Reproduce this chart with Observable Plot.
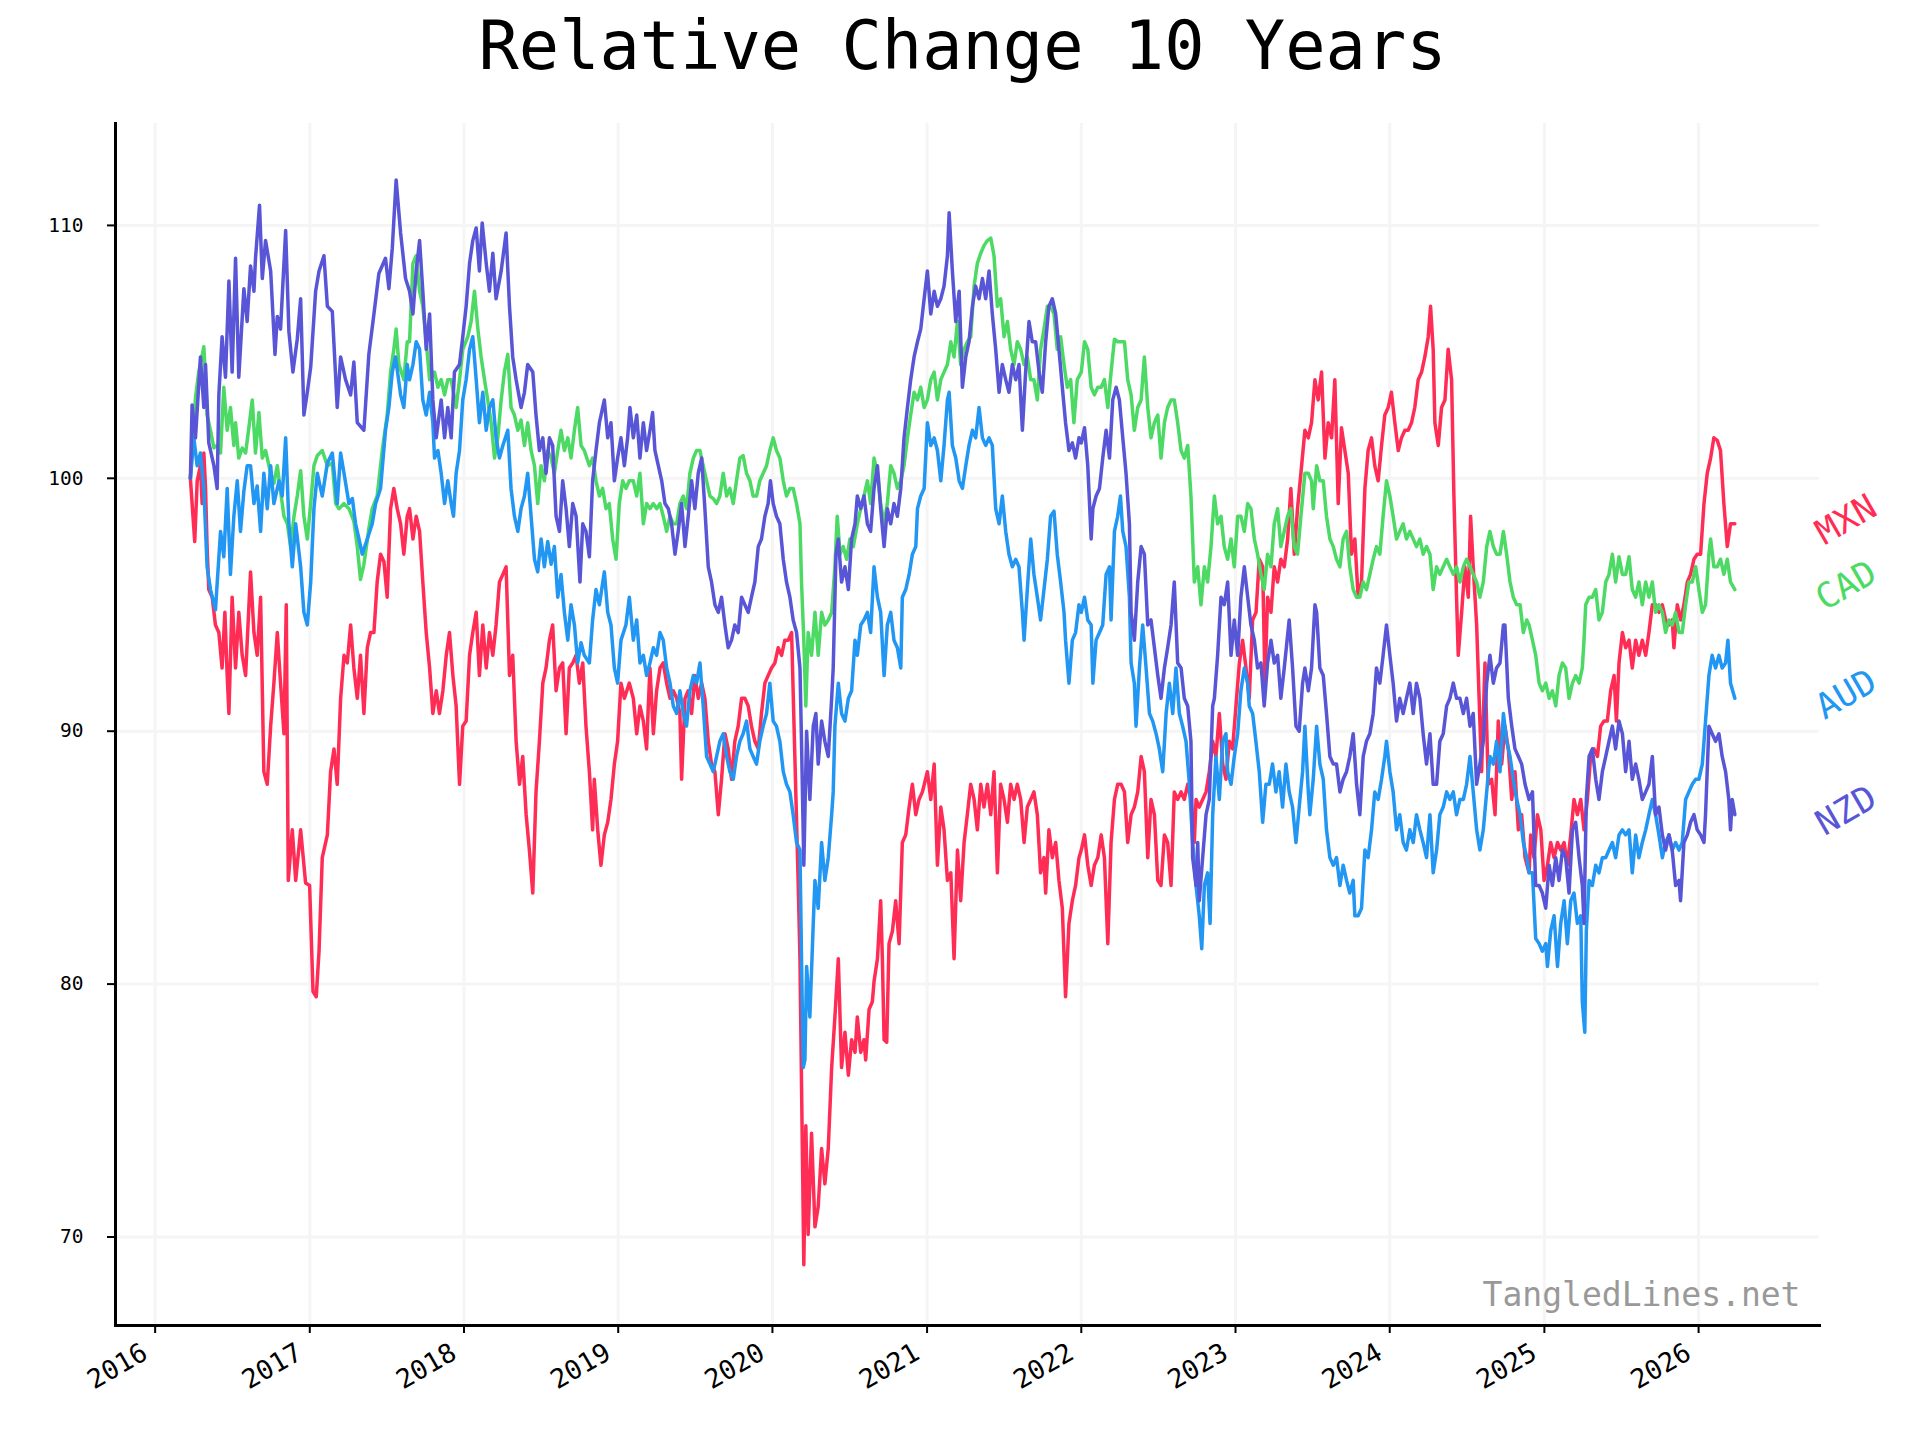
<!DOCTYPE html>
<html><head><meta charset="utf-8">
<script src="https://cdn.jsdelivr.net/npm/d3@7"></script>
<script src="https://cdn.jsdelivr.net/npm/@observablehq/plot@0.6"></script>
<style>html,body{margin:0;padding:0;background:#fff;overflow:hidden;width:1920px;height:1440px;} svg{display:block}</style>
</head><body><div id="chart"></div>
<script>
const chartTitle = "Relative Change 10 Years";
const watermark = "TangledLines.net";
const seriesNames = ["MXN", "CAD", "AUD", "NZD"];
const seriesColors = ["#ff2d55", "#4cd964", "#2196f3", "#5856d6"];
const yTickValues = [70, 80, 90, 100, 110];
const xTickYears = [2016, 2017, 2018, 2019, 2020, 2021, 2022, 2023, 2024, 2025, 2026];

// [decimal year, value]
const MXN = [[2016.228,100],[2016.239,99.0],[2016.256,97.5],[2016.272,99.9],[2016.293,100.5],[2016.304,99.0],[2016.315,101.0],[2016.326,99.6],[2016.336,97.3],[2016.347,95.6],[2016.369,95.3],[2016.390,94.2],[2016.412,93.9],[2016.433,92.5],[2016.451,94.7],[2016.466,92.2],[2016.477,90.7],[2016.498,95.3],[2016.520,92.5],[2016.541,94.7],[2016.563,93.0],[2016.585,92.2],[2016.617,96.3],[2016.639,93.9],[2016.660,93.0],[2016.682,95.3],[2016.703,88.4],[2016.725,87.9],[2016.747,90.2],[2016.768,91.9],[2016.790,93.9],[2016.811,91.9],[2016.833,89.9],[2016.848,95.0],[2016.861,84.1],[2016.887,86.1],[2016.909,84.1],[2016.941,86.1],[2016.973,84.0],[2016.999,83.9],[2017.021,79.7],[2017.042,79.5],[2017.060,81.3],[2017.081,85.0],[2017.114,85.9],[2017.135,88.4],[2017.157,89.3],[2017.178,87.9],[2017.200,91.3],[2017.222,93.0],[2017.243,92.7],[2017.265,94.2],[2017.286,92.5],[2017.308,91.3],[2017.329,93.0],[2017.351,90.7],[2017.373,93.3],[2017.394,93.9],[2017.416,93.9],[2017.437,95.9],[2017.459,97.0],[2017.481,96.7],[2017.502,95.3],[2017.524,98.8],[2017.545,99.6],[2017.567,98.8],[2017.589,98.2],[2017.610,97.0],[2017.632,98.5],
[2017.647,98.8],[2017.669,97.6],[2017.690,98.5],[2017.712,97.9],[2017.733,95.9],[2017.755,93.9],[2017.777,92.5],[2017.798,90.7],[2017.820,91.6],[2017.841,90.7],[2017.863,91.6],[2017.885,93.0],[2017.906,93.9],[2017.928,92.2],[2017.949,91.0],[2017.971,87.9],[2017.992,90.2],[2018.014,90.4],[2018.036,93.0],[2018.057,93.9],[2018.079,94.7],[2018.100,92.2],[2018.122,94.2],[2018.144,92.5],[2018.165,93.9],[2018.187,93.0],[2018.208,94.2],[2018.230,95.9],[2018.252,96.2],[2018.273,96.5],[2018.295,92.2],[2018.316,93.0],[2018.338,89.6],[2018.360,87.9],[2018.381,89.0],[2018.403,86.7],[2018.424,85.3],[2018.446,83.6],[2018.467,87.6],[2018.489,89.6],[2018.511,91.9],[2018.532,92.5],[2018.554,93.6],[2018.575,94.2],[2018.597,91.6],[2018.619,92.5],[2018.640,92.7],[2018.662,89.9],[2018.683,92.5],[2018.705,92.7],[2018.727,93.0],[2018.748,91.9],[2018.770,92.7],[2018.791,90.2],[2018.813,88.4],[2018.834,86.1],[2018.845,88.1],[2018.867,86.1],[2018.888,84.7],[2018.910,85.9],[2018.932,86.4],[2018.953,87.3],[2018.975,88.7],[2018.996,89.6],[2019.018,91.9],[2019.040,91.3],[2019.072,91.9],
[2019.098,91.3],[2019.120,89.9],[2019.141,91.0],[2019.163,90.4],[2019.184,89.3],[2019.195,91.0],[2019.206,92.5],[2019.228,89.9],[2019.249,91.6],[2019.271,92.5],[2019.292,92.7],[2019.314,91.9],[2019.336,91.3],[2019.357,91.6],[2019.379,91.3],[2019.400,90.7],[2019.411,88.1],[2019.433,91.3],[2019.454,91.6],[2019.476,90.7],[2019.497,92.2],[2019.519,91.3],[2019.541,91.9],[2019.562,91.3],[2019.584,89.6],[2019.605,88.7],[2019.627,88.4],[2019.649,86.7],[2019.670,88.1],[2019.692,89.9],[2019.713,89.3],[2019.735,88.1],[2019.756,89.6],[2019.778,90.2],[2019.800,91.3],[2019.821,91.3],[2019.843,91.0],[2019.864,90.2],[2019.886,89.6],[2019.908,89.3],[2019.929,90.7],[2019.951,91.9],[2019.972,92.2],[2019.994,92.5],[2020.016,92.7],[2020.037,93.3],[2020.059,93.0],[2020.080,93.6],[2020.102,93.6],[2020.124,93.9],[2020.145,89.0],[2020.167,83.9],[2020.178,81.0],[2020.188,76.1],[2020.203,68.9],[2020.216,74.4],[2020.231,70.1],[2020.253,74.1],[2020.275,70.4],[2020.296,71.2],[2020.318,73.5],[2020.339,72.1],[2020.361,73.5],[2020.383,76.7],[2020.404,78.7],[2020.426,81.0],[2020.447,76.7],[2020.469,78.1],[2020.491,76.4],[2020.512,77.8],[2020.534,77.3],
[2020.549,78.7],[2020.571,77.3],[2020.592,77.8],[2020.603,77.0],[2020.625,79.0],[2020.646,79.3],[2020.657,80.1],[2020.679,81.0],[2020.700,83.3],[2020.711,81.0],[2020.722,77.8],[2020.739,77.7],[2020.754,81.6],[2020.776,82.1],[2020.797,83.3],[2020.819,81.6],[2020.840,85.6],[2020.862,85.9],[2020.884,87.0],[2020.905,87.9],[2020.927,86.7],[2020.948,87.3],[2020.970,87.6],[2021.002,88.4],[2021.024,87.3],[2021.046,88.7],[2021.067,84.7],[2021.089,87.0],[2021.110,86.1],[2021.132,84.1],[2021.154,84.4],[2021.175,81.0],[2021.197,85.3],[2021.218,83.3],[2021.240,85.6],[2021.261,86.7],[2021.283,87.9],[2021.305,87.3],[2021.326,86.1],[2021.348,87.9],[2021.369,87.0],[2021.391,87.9],[2021.413,86.7],[2021.434,88.4],[2021.456,84.4],[2021.477,87.9],[2021.499,87.3],[2021.521,86.4],[2021.542,87.9],[2021.564,87.3],[2021.585,87.9],[2021.607,87.3],[2021.629,85.6],[2021.650,87.0],[2021.672,87.3],[2021.693,87.6],[2021.715,86.7],[2021.736,84.4],[2021.758,85.0],[2021.769,83.6],[2021.790,86.1],[2021.812,85.0],[2021.834,85.6],[2021.855,84.1],[2021.877,83.0],[2021.898,79.5],[2021.920,82.4],[2021.942,83.3],[2021.963,83.9],[2021.985,85.0],[2022.000,85.3],
[2022.021,85.9],[2022.042,84.7],[2022.064,83.9],[2022.085,84.7],[2022.107,85.0],[2022.129,85.9],[2022.150,85.0],[2022.172,81.6],[2022.193,85.6],[2022.215,87.3],[2022.236,87.9],[2022.258,87.9],[2022.280,87.6],[2022.301,85.6],[2022.323,86.7],[2022.344,87.0],[2022.366,87.6],[2022.388,89.0],[2022.409,88.4],[2022.431,85.0],[2022.452,87.3],[2022.474,86.7],[2022.496,84.1],[2022.517,83.9],[2022.539,85.9],[2022.560,85.6],[2022.582,83.9],[2022.603,87.6],[2022.625,87.3],[2022.647,87.6],[2022.668,87.3],[2022.690,87.9],[2022.711,87.3],[2022.733,85.6],[2022.744,87.3],[2022.765,87.0],[2022.787,87.3],[2022.809,87.6],[2022.830,88.4],[2022.852,89.6],[2022.873,89.0],[2022.895,90.7],[2022.917,88.7],[2022.938,88.1],[2022.960,89.6],[2022.981,89.3],[2023.003,91.0],[2023.025,92.7],[2023.046,93.6],[2023.068,92.5],[2023.089,91.3],[2023.111,94.4],[2023.133,94.7],[2023.154,96.8],[2023.176,96.5],[2023.191,91.9],[2023.208,95.3],[2023.230,94.7],[2023.251,96.5],[2023.273,95.9],[2023.294,96.8],[2023.316,96.5],[2023.338,97.6],[2023.359,99.6],[2023.381,97.0],[2023.402,98.8],[2023.424,100.2],[2023.450,101.9],
[2023.472,101.6],[2023.493,102.2],[2023.515,103.9],[2023.536,103.1],[2023.558,104.2],[2023.580,100.8],[2023.601,102.2],[2023.623,101.6],[2023.644,103.9],[2023.666,99.0],[2023.687,102.0],[2023.709,101.1],[2023.731,100.2],[2023.752,97.0],[2023.774,97.6],[2023.795,95.3],[2023.817,95.9],[2023.839,99.6],[2023.860,101.1],[2023.882,101.6],[2023.903,100.5],[2023.925,99.9],[2023.947,101.3],[2023.968,102.5],[2023.990,102.8],[2024.011,103.4],[2024.033,102.2],[2024.055,101.1],[2024.076,101.6],[2024.098,101.9],[2024.119,101.9],[2024.141,102.2],[2024.162,102.8],[2024.184,103.9],[2024.206,104.2],[2024.227,104.8],[2024.249,105.6],[2024.264,106.8],[2024.281,105.1],[2024.292,102.2],[2024.314,101.3],[2024.335,102.8],[2024.357,103.1],[2024.378,105.1],[2024.400,103.9],[2024.415,99.3],[2024.432,95.3],[2024.443,93.0],[2024.465,94.7],[2024.486,96.5],[2024.508,95.3],[2024.523,98.5],[2024.540,96.5],[2024.562,94.2],[2024.583,90.4],[2024.594,88.4],[2024.616,92.7],[2024.637,87.9],[2024.659,88.1],[2024.681,86.7],[2024.702,90.4],[2024.724,88.7],[2024.745,90.2],[2024.767,89.3],[2024.789,87.3],[2024.810,88.4],[2024.832,86.1],[2024.853,86.7],[2024.875,85.0],[2024.901,84.4],
[2024.912,85.9],[2024.933,85.0],[2024.955,86.7],[2024.977,86.1],[2024.998,84.1],[2025.020,84.7],[2025.041,85.6],[2025.063,85.0],[2025.085,85.6],[2025.106,85.3],[2025.128,85.6],[2025.149,84.7],[2025.171,85.9],[2025.192,87.3],[2025.214,86.7],[2025.236,87.3],[2025.257,86.1],[2025.279,87.3],[2025.300,89.0],[2025.322,89.3],[2025.344,89.0],[2025.365,90.2],[2025.387,90.4],[2025.408,90.4],[2025.430,91.6],[2025.452,92.2],[2025.467,90.4],[2025.484,92.7],[2025.506,93.9],[2025.527,93.3],[2025.549,93.6],[2025.570,92.5],[2025.592,93.6],[2025.613,93.0],[2025.635,93.6],[2025.657,93.0],[2025.678,93.9],[2025.700,95.0],[2025.721,95.0],[2025.743,94.7],[2025.765,95.0],[2025.786,94.4],[2025.808,94.2],[2025.829,94.4],[2025.840,93.3],[2025.862,95.0],[2025.883,94.4],[2025.905,95.0],[2025.927,95.9],[2025.948,96.2],[2025.970,96.8],[2025.991,97.0],[2026.013,97.0],[2026.035,99.0],[2026.056,100.2],[2026.078,100.8],[2026.099,101.6],[2026.121,101.5],[2026.142,101.1],[2026.164,99.0],[2026.186,97.3],[2026.207,98.2],[2026.235,98.2]];

const CAD = [[2016.228,100],[2016.239,101.0],[2016.261,103.2],[2016.282,104.2],[2016.315,105.2],[2016.326,103.9],[2016.336,102.5],[2016.358,101.9],[2016.380,101.2],[2016.401,101.3],[2016.423,101.0],[2016.444,103.6],[2016.466,101.9],[2016.487,102.8],[2016.509,101.3],[2016.520,102.2],[2016.541,100.8],[2016.563,101.2],[2016.585,101.0],[2016.606,102.0],[2016.628,103.1],[2016.649,101.0],[2016.671,102.6],[2016.693,100.8],[2016.714,101.1],[2016.747,100.2],[2016.768,99.8],[2016.790,100.5],[2016.811,99.5],[2016.833,98.5],[2016.855,98.2],[2016.876,97.3],[2016.898,98.5],[2016.919,99.3],[2016.941,100.3],[2016.962,98.5],[2016.984,97.6],[2017.006,99.0],[2017.027,100.5],[2017.049,100.9],[2017.081,101.1],[2017.114,100.5],[2017.146,100.6],[2017.168,99.0],[2017.189,98.8],[2017.222,99.0],[2017.254,98.8],[2017.286,98.3],[2017.308,97.3],[2017.329,96.0],[2017.351,96.6],[2017.383,98.0],[2017.405,98.8],[2017.437,99.3],[2017.470,101.1],[2017.502,102.5],[2017.524,104.2],[2017.545,105.1],[2017.560,105.9],[2017.578,104.5],[2017.610,103.9],[2017.632,105.4],
[2017.647,105.4],[2017.669,108.5],[2017.690,108.8],[2017.712,107.4],[2017.733,106.8],[2017.755,105.4],[2017.777,103.9],[2017.809,104.2],[2017.831,103.6],[2017.852,103.9],[2017.874,103.3],[2017.895,103.9],[2017.917,103.9],[2017.949,102.8],[2017.971,103.9],[2017.992,105.1],[2018.025,105.6],[2018.046,106.2],[2018.068,107.4],[2018.090,105.9],[2018.111,104.8],[2018.133,103.9],[2018.154,103.1],[2018.176,102.2],[2018.198,100.8],[2018.219,101.6],[2018.241,103.1],[2018.262,104.2],[2018.284,104.9],[2018.305,102.8],[2018.327,102.5],[2018.349,101.9],[2018.370,102.3],[2018.392,101.3],[2018.413,102.2],[2018.435,101.1],[2018.457,100.5],[2018.478,99.0],[2018.500,100.5],[2018.521,99.9],[2018.543,101.1],[2018.565,100.8],[2018.586,100.2],[2018.608,101.1],[2018.629,101.9],[2018.651,101.1],[2018.673,101.6],[2018.694,100.8],[2018.716,101.9],[2018.737,102.8],[2018.759,101.3],[2018.780,101.1],[2018.813,100.5],[2018.834,100.8],[2018.856,99.9],[2018.878,99.3],[2018.899,99.6],[2018.921,98.8],[2018.942,99.0],[2018.964,97.6],[2018.986,96.8],[2019.007,99.0],[2019.029,99.9],[2019.050,99.6],[2019.072,99.9],
[2019.098,99.9],[2019.120,99.3],[2019.141,100.2],[2019.163,98.2],[2019.184,99.0],[2019.206,98.8],[2019.228,99.0],[2019.249,98.8],[2019.271,99.0],[2019.292,98.5],[2019.314,97.9],[2019.336,98.5],[2019.357,98.2],[2019.379,98.2],[2019.400,99.0],[2019.422,99.3],[2019.443,98.8],[2019.465,100.2],[2019.487,100.8],[2019.508,101.1],[2019.530,101.1],[2019.551,100.5],[2019.573,99.9],[2019.595,99.3],[2019.616,99.2],[2019.638,99.0],[2019.659,99.3],[2019.681,100.2],[2019.703,99.3],[2019.724,99.6],[2019.746,99.0],[2019.767,99.9],[2019.789,100.8],[2019.810,100.9],[2019.832,100.2],[2019.854,99.9],[2019.875,99.3],[2019.897,99.3],[2019.918,99.9],[2019.940,100.2],[2019.962,100.5],[2019.983,101.1],[2020.005,101.6],[2020.026,101.1],[2020.048,100.8],[2020.070,99.9],[2020.091,99.3],[2020.113,99.6],[2020.134,99.6],[2020.156,99.0],[2020.178,98.2],[2020.188,95.9],[2020.203,93.6],[2020.216,91.0],[2020.231,93.9],[2020.253,93.0],[2020.275,94.7],[2020.296,93.0],[2020.318,94.7],[2020.339,94.2],[2020.361,94.4],[2020.383,94.7],[2020.404,96.5],[2020.419,98.5],[2020.437,97.0],[2020.458,97.3],[2020.480,96.8],[2020.501,97.6],[2020.523,97.3],
[2020.549,98.2],[2020.571,98.8],[2020.592,99.3],[2020.614,99.9],[2020.635,99.0],[2020.657,100.8],[2020.679,100.2],[2020.700,99.0],[2020.722,98.2],[2020.743,99.0],[2020.765,100.5],[2020.786,100.2],[2020.808,99.6],[2020.830,99.9],[2020.851,100.5],[2020.873,101.6],[2020.894,102.5],[2020.916,103.4],[2020.938,103.1],[2020.959,103.6],[2020.981,102.8],[2021.002,103.1],[2021.024,103.9],[2021.046,104.2],[2021.067,103.1],[2021.089,103.9],[2021.110,104.2],[2021.132,104.5],[2021.154,105.4],[2021.175,104.8],[2021.197,106.2],[2021.218,104.5],[2021.240,105.1],[2021.261,105.4],[2021.283,105.6],[2021.305,107.6],[2021.326,108.5],[2021.348,108.9],[2021.369,109.2],[2021.391,109.4],[2021.413,109.5],[2021.434,108.8],[2021.456,106.8],[2021.477,107.1],[2021.499,105.6],[2021.521,106.2],[2021.542,105.1],[2021.564,104.5],[2021.585,105.4],[2021.607,105.1],[2021.629,104.5],[2021.650,104.8],[2021.672,103.9],[2021.693,103.9],[2021.715,103.1],[2021.736,105.1],[2021.758,105.9],[2021.780,106.8],[2021.801,106.8],[2021.823,106.5],[2021.844,105.1],[2021.866,105.6],[2021.888,104.5],[2021.909,103.6],[2021.931,103.9],[2021.952,102.2],[2021.974,103.9],[2022.000,104.2],
[2022.021,105.4],[2022.042,105.1],[2022.064,103.6],[2022.085,103.3],[2022.107,103.6],[2022.129,103.6],[2022.150,103.9],[2022.172,102.8],[2022.193,104.2],[2022.215,105.5],[2022.236,105.4],[2022.258,105.4],[2022.280,105.4],[2022.301,103.9],[2022.323,103.3],[2022.344,101.9],[2022.366,102.8],[2022.388,103.1],[2022.409,104.8],[2022.431,102.8],[2022.452,101.6],[2022.474,102.2],[2022.496,102.5],[2022.517,100.8],[2022.539,102.2],[2022.560,102.8],[2022.582,103.1],[2022.603,103.1],[2022.625,102.2],[2022.647,101.1],[2022.668,100.8],[2022.690,101.3],[2022.711,99.3],[2022.733,95.9],[2022.755,96.5],[2022.776,95.0],[2022.798,96.5],[2022.819,95.9],[2022.841,97.3],[2022.863,99.3],[2022.884,98.2],[2022.906,98.5],[2022.927,97.3],[2022.949,96.8],[2022.971,97.6],[2022.992,96.5],[2023.014,98.5],[2023.035,98.5],[2023.057,97.9],[2023.079,99.0],[2023.100,98.8],[2023.122,97.6],[2023.143,97.0],[2023.165,96.2],[2023.186,95.6],[2023.208,97.0],[2023.230,96.5],[2023.251,98.2],[2023.273,98.8],[2023.294,97.3],[2023.316,97.9],[2023.338,98.5],[2023.359,98.8],[2023.381,97.3],[2023.402,97.0],[2023.424,98.5],[2023.450,100.2],
[2023.472,100.2],[2023.493,99.9],[2023.504,98.8],[2023.526,100.5],[2023.547,99.9],[2023.569,99.9],[2023.590,98.5],[2023.612,97.6],[2023.634,97.3],[2023.655,96.8],[2023.677,96.5],[2023.698,97.6],[2023.720,97.9],[2023.741,96.5],[2023.763,95.6],[2023.785,95.3],[2023.806,95.3],[2023.828,95.9],[2023.849,95.6],[2023.871,96.2],[2023.893,96.8],[2023.914,97.3],[2023.936,97.0],[2023.957,98.5],[2023.979,99.9],[2024.001,99.3],[2024.022,98.5],[2024.044,97.6],[2024.065,97.9],[2024.087,98.2],[2024.108,97.6],[2024.130,97.9],[2024.152,97.6],[2024.173,97.3],[2024.195,97.6],[2024.216,97.0],[2024.238,97.3],[2024.260,97.0],[2024.281,95.6],[2024.303,96.5],[2024.324,96.2],[2024.346,96.5],[2024.368,96.8],[2024.389,96.5],[2024.411,96.2],[2024.432,96.5],[2024.454,95.9],[2024.476,96.5],[2024.497,96.8],[2024.519,96.5],[2024.540,96.2],[2024.562,95.9],[2024.583,95.3],[2024.605,95.9],[2024.627,97.3],[2024.648,97.9],[2024.670,97.3],[2024.691,97.0],[2024.713,97.0],[2024.735,97.9],[2024.756,97.0],[2024.778,95.9],[2024.799,95.3],[2024.821,95.0],[2024.843,95.0],[2024.864,93.9],[2024.886,94.4],[2024.901,94.2],
[2024.923,93.6],[2024.944,93.0],[2024.966,91.9],[2024.987,91.6],[2025.009,91.9],[2025.031,91.3],[2025.052,91.6],[2025.074,91.0],[2025.095,92.2],[2025.117,92.7],[2025.138,92.5],[2025.160,91.3],[2025.182,91.9],[2025.203,92.2],[2025.225,91.9],[2025.246,92.5],[2025.257,93.6],[2025.268,95.0],[2025.290,95.3],[2025.311,95.3],[2025.333,95.6],[2025.354,94.4],[2025.376,94.7],[2025.398,95.9],[2025.419,96.2],[2025.441,97.0],[2025.462,95.9],[2025.484,96.9],[2025.506,96.2],[2025.527,96.2],[2025.549,96.9],[2025.570,95.6],[2025.592,95.3],[2025.613,95.9],[2025.635,95.0],[2025.657,95.9],[2025.678,95.3],[2025.700,95.9],[2025.721,94.7],[2025.743,95.0],[2025.765,94.7],[2025.786,93.9],[2025.808,94.4],[2025.829,94.2],[2025.851,94.7],[2025.873,93.9],[2025.894,93.9],[2025.916,95.0],[2025.937,95.9],[2025.959,95.9],[2025.981,96.5],[2026.002,95.6],[2026.024,94.7],[2026.045,95.0],[2026.067,97.0],[2026.078,97.6],[2026.099,96.5],[2026.121,96.5],[2026.142,96.8],[2026.164,96.2],[2026.186,96.8],[2026.207,95.9],[2026.235,95.6]];

const AUD = [[2016.228,100],[2016.250,101.6],[2016.272,100.5],[2016.293,101.0],[2016.315,99.6],[2016.336,96.5],[2016.358,95.6],[2016.390,94.8],[2016.423,97.9],[2016.444,96.9],[2016.466,99.6],[2016.487,96.2],[2016.509,98.5],[2016.531,99.9],[2016.552,97.9],[2016.574,99.5],[2016.595,100.5],[2016.617,100.5],[2016.639,99.0],[2016.660,99.7],[2016.682,97.9],[2016.703,100.2],[2016.725,98.8],[2016.747,100.5],[2016.768,99.0],[2016.801,99.9],[2016.822,99.3],[2016.844,101.6],[2016.865,98.2],[2016.887,96.5],[2016.909,98.2],[2016.941,96.5],[2016.962,94.7],[2016.984,94.2],[2017.006,95.9],[2017.027,98.8],[2017.049,100.2],[2017.081,99.3],[2017.114,100.6],[2017.146,101.0],[2017.178,99.0],[2017.200,101.0],[2017.222,100.2],[2017.254,99.0],[2017.276,99.2],[2017.297,98.2],[2017.319,97.6],[2017.340,97.0],[2017.373,97.6],[2017.405,98.2],[2017.427,99.0],[2017.459,99.6],[2017.491,101.9],[2017.513,102.8],[2017.535,104.2],[2017.556,104.8],[2017.589,103.3],[2017.610,102.8],[2017.632,104.5],
[2017.647,103.9],[2017.669,104.5],[2017.690,105.4],[2017.712,105.1],[2017.733,103.1],[2017.755,102.5],[2017.777,103.4],[2017.798,102.2],[2017.809,100.8],[2017.831,101.1],[2017.852,100.2],[2017.874,99.0],[2017.895,99.9],[2017.917,99.0],[2017.932,98.5],[2017.949,100.2],[2017.971,101.1],[2017.992,103.1],[2018.014,103.9],[2018.036,105.1],[2018.057,105.6],[2018.079,103.9],[2018.100,102.2],[2018.122,103.4],[2018.144,101.9],[2018.165,102.8],[2018.187,103.1],[2018.208,101.6],[2018.230,100.8],[2018.252,101.3],[2018.284,101.9],[2018.305,99.6],[2018.327,98.5],[2018.349,97.9],[2018.370,98.8],[2018.392,99.3],[2018.413,100.2],[2018.435,98.5],[2018.457,96.8],[2018.478,96.3],[2018.500,97.6],[2018.521,96.5],[2018.543,97.5],[2018.565,96.6],[2018.586,97.3],[2018.608,95.3],[2018.629,96.2],[2018.651,94.7],[2018.673,93.6],[2018.694,95.0],[2018.716,94.2],[2018.737,92.7],[2018.759,93.5],[2018.780,93.0],[2018.813,92.7],[2018.834,94.4],[2018.856,95.6],[2018.878,95.0],[2018.910,96.3],[2018.932,94.7],[2018.953,94.2],[2018.975,92.5],[2018.996,91.9],[2019.018,93.6],[2019.050,94.2],[2019.072,95.3],
[2019.098,93.6],[2019.120,94.4],[2019.141,92.7],[2019.163,93.0],[2019.184,92.2],[2019.206,92.7],[2019.228,93.3],[2019.249,93.0],[2019.271,93.9],[2019.292,93.6],[2019.314,92.5],[2019.336,91.9],[2019.357,91.0],[2019.379,90.7],[2019.400,91.6],[2019.422,90.7],[2019.443,90.2],[2019.465,91.6],[2019.487,92.2],[2019.508,91.9],[2019.530,92.7],[2019.551,91.0],[2019.573,89.0],[2019.595,88.7],[2019.616,88.4],[2019.638,89.0],[2019.659,89.6],[2019.681,89.9],[2019.703,89.0],[2019.724,88.4],[2019.746,88.1],[2019.767,89.0],[2019.789,89.6],[2019.810,89.9],[2019.832,90.4],[2019.854,89.3],[2019.875,89.0],[2019.897,88.7],[2019.918,89.6],[2019.940,90.2],[2019.962,90.7],[2019.983,91.9],[2020.005,90.4],[2020.026,90.2],[2020.048,89.6],[2020.070,88.4],[2020.091,87.9],[2020.113,87.6],[2020.134,86.7],[2020.156,85.6],[2020.178,85.3],[2020.188,81.0],[2020.199,76.7],[2020.210,77.0],[2020.221,80.7],[2020.242,78.7],[2020.264,82.4],[2020.275,84.1],[2020.296,83.0],[2020.318,85.6],[2020.339,84.1],[2020.361,85.0],[2020.383,86.7],[2020.393,87.6],[2020.404,90.2],[2020.426,91.9],[2020.447,90.7],[2020.469,90.4],[2020.491,91.3],[2020.512,91.6],[2020.534,93.6],
[2020.549,93.0],[2020.571,94.2],[2020.592,94.4],[2020.614,94.7],[2020.635,93.9],[2020.657,96.5],[2020.679,95.3],[2020.700,94.7],[2020.722,92.2],[2020.743,94.2],[2020.765,94.7],[2020.786,93.6],[2020.808,93.3],[2020.830,92.5],[2020.840,95.3],[2020.862,95.6],[2020.884,96.2],[2020.905,97.0],[2020.927,97.3],[2020.938,98.8],[2020.959,99.3],[2020.981,99.6],[2021.002,102.2],[2021.024,101.3],[2021.046,101.6],[2021.067,101.1],[2021.089,99.9],[2021.110,101.3],[2021.132,103.1],[2021.143,103.4],[2021.164,101.3],[2021.186,100.8],[2021.208,99.9],[2021.229,99.6],[2021.251,100.5],[2021.272,101.3],[2021.294,101.9],[2021.315,101.6],[2021.337,102.8],[2021.359,101.6],[2021.380,101.3],[2021.402,101.6],[2021.423,101.3],[2021.445,98.8],[2021.467,98.2],[2021.488,99.3],[2021.510,97.9],[2021.531,97.0],[2021.553,96.5],[2021.575,96.8],[2021.596,96.5],[2021.618,94.7],[2021.629,93.6],[2021.650,95.6],[2021.672,97.6],[2021.693,96.2],[2021.715,95.3],[2021.736,94.4],[2021.758,95.6],[2021.780,96.8],[2021.801,98.5],[2021.823,98.7],[2021.844,97.0],[2021.866,95.9],[2021.888,94.7],[2021.898,93.6],[2021.920,91.9],[2021.942,93.6],[2021.963,93.9],[2021.985,95.0],[2022.000,94.7],
[2022.021,95.3],[2022.042,94.4],[2022.064,94.2],[2022.075,91.9],[2022.096,93.6],[2022.118,93.9],[2022.139,94.2],[2022.161,96.2],[2022.183,96.5],[2022.193,94.4],[2022.215,97.9],[2022.236,98.5],[2022.254,99.3],[2022.269,97.9],[2022.290,97.3],[2022.312,95.3],[2022.323,92.7],[2022.344,91.9],[2022.355,90.2],[2022.377,92.5],[2022.398,94.2],[2022.420,92.5],[2022.442,90.7],[2022.463,90.4],[2022.485,89.9],[2022.506,89.3],[2022.528,88.4],[2022.550,90.7],[2022.571,91.9],[2022.593,90.7],[2022.614,92.5],[2022.636,90.7],[2022.657,90.2],[2022.679,89.6],[2022.701,87.9],[2022.722,85.6],[2022.744,83.9],[2022.765,82.7],[2022.781,81.4],[2022.798,83.9],[2022.819,84.4],[2022.835,82.4],[2022.852,86.7],[2022.873,89.0],[2022.895,87.3],[2022.917,89.6],[2022.938,89.9],[2022.949,88.4],[2022.971,87.9],[2022.992,89.0],[2023.014,89.9],[2023.035,91.6],[2023.057,92.5],[2023.079,91.9],[2023.089,91.0],[2023.111,90.7],[2023.132,89.6],[2023.154,88.4],[2023.176,86.4],[2023.197,87.9],[2023.219,87.9],[2023.240,88.7],[2023.262,87.6],[2023.283,88.4],[2023.305,87.0],[2023.327,88.7],[2023.348,87.6],[2023.370,87.0],[2023.392,85.6],[2023.413,87.0],[2023.435,88.4],[2023.450,90.2],
[2023.472,87.6],[2023.482,86.7],[2023.504,88.1],[2023.526,90.2],[2023.547,88.7],[2023.569,88.1],[2023.590,86.1],[2023.612,85.0],[2023.634,84.7],[2023.655,85.0],[2023.677,83.9],[2023.698,84.7],[2023.720,84.1],[2023.741,83.6],[2023.763,84.1],[2023.774,82.7],[2023.795,82.7],[2023.817,83.0],[2023.839,85.3],[2023.860,85.0],[2023.882,86.1],[2023.903,87.6],[2023.925,87.3],[2023.947,88.1],[2023.968,89.0],[2023.979,89.6],[2024.001,88.4],[2024.022,87.6],[2024.044,86.1],[2024.065,86.7],[2024.087,85.6],[2024.108,85.3],[2024.130,86.1],[2024.152,85.6],[2024.173,86.7],[2024.195,86.1],[2024.216,85.6],[2024.238,85.0],[2024.260,86.7],[2024.281,84.4],[2024.303,85.3],[2024.324,86.7],[2024.346,87.0],[2024.368,87.6],[2024.389,87.3],[2024.411,87.6],[2024.432,86.7],[2024.454,87.3],[2024.476,87.3],[2024.497,87.9],[2024.519,89.0],[2024.540,87.6],[2024.562,86.1],[2024.583,85.3],[2024.605,86.1],[2024.627,87.6],[2024.648,89.0],[2024.670,88.7],[2024.691,89.6],[2024.713,88.4],[2024.735,90.7],[2024.756,89.6],[2024.778,89.0],[2024.799,88.1],[2024.821,87.3],[2024.843,86.7],[2024.864,85.6],[2024.886,85.0],[2024.901,84.4],
[2024.923,84.4],[2024.944,81.8],[2024.966,81.6],[2024.987,81.3],[2025.009,81.6],[2025.020,80.7],[2025.041,82.1],[2025.063,82.7],[2025.085,80.7],[2025.106,82.4],[2025.128,83.3],[2025.149,81.6],[2025.171,83.3],[2025.192,83.6],[2025.214,82.4],[2025.236,82.7],[2025.246,79.3],[2025.262,78.1],[2025.272,82.1],[2025.290,84.1],[2025.311,83.9],[2025.333,84.7],[2025.354,84.4],[2025.376,85.0],[2025.398,85.0],[2025.419,85.3],[2025.441,85.6],[2025.462,85.0],[2025.484,85.9],[2025.506,86.1],[2025.527,85.9],[2025.549,86.1],[2025.570,84.4],[2025.592,85.9],[2025.613,85.0],[2025.635,85.6],[2025.657,86.1],[2025.678,86.7],[2025.700,87.3],[2025.721,86.7],[2025.743,85.9],[2025.765,85.0],[2025.786,85.6],[2025.808,85.9],[2025.829,85.3],[2025.851,85.6],[2025.873,85.3],[2025.894,85.6],[2025.916,87.3],[2025.937,87.6],[2025.959,87.9],[2025.981,88.1],[2026.002,88.1],[2026.024,88.7],[2026.045,90.4],[2026.067,92.2],[2026.088,93.0],[2026.110,92.5],[2026.132,93.0],[2026.153,92.5],[2026.175,92.7],[2026.190,93.6],[2026.207,91.9],[2026.235,91.3]];

const NZD = [[2016.228,100.0],[2016.239,102.9],[2016.261,101.6],[2016.293,104.8],[2016.315,102.8],[2016.326,104.5],[2016.347,101.4],[2016.380,100.5],[2016.401,99.6],[2016.412,103.3],[2016.433,105.6],[2016.455,104.0],[2016.477,107.8],[2016.498,104.2],[2016.520,108.7],[2016.541,104.0],[2016.574,107.5],[2016.595,106.2],[2016.617,108.4],[2016.639,107.4],[2016.649,108.7],[2016.675,110.8],[2016.693,107.9],[2016.714,109.4],[2016.747,108.2],[2016.775,104.9],[2016.790,106.4],[2016.811,105.9],[2016.844,109.8],[2016.865,105.8],[2016.891,104.2],[2016.919,105.5],[2016.941,107.1],[2016.962,102.5],[2016.984,103.4],[2017.006,104.4],[2017.038,107.4],[2017.060,108.2],[2017.092,108.8],[2017.114,106.8],[2017.146,106.6],[2017.178,102.8],[2017.200,104.8],[2017.232,103.9],[2017.265,103.3],[2017.286,104.6],[2017.308,102.2],[2017.351,101.9],[2017.383,104.9],[2017.416,106.5],[2017.448,108.1],[2017.491,108.7],[2017.513,107.5],[2017.535,109.1],[2017.560,111.8],[2017.589,109.7],[2017.621,107.9],
[2017.647,107.4],[2017.669,106.5],[2017.690,108.2],[2017.712,109.4],[2017.733,107.4],[2017.755,105.1],[2017.777,106.5],[2017.798,103.1],[2017.820,101.6],[2017.852,103.1],[2017.874,101.6],[2017.895,102.8],[2017.917,101.6],[2017.938,104.2],[2017.971,104.5],[2017.992,105.6],[2018.014,106.8],[2018.036,108.5],[2018.057,109.4],[2018.079,109.9],[2018.100,108.2],[2018.118,110.1],[2018.144,108.5],[2018.165,107.4],[2018.187,108.9],[2018.208,107.1],[2018.241,108.2],[2018.273,109.7],[2018.295,106.8],[2018.316,104.8],[2018.338,103.9],[2018.370,102.8],[2018.392,103.4],[2018.413,104.5],[2018.446,104.2],[2018.467,102.5],[2018.489,101.1],[2018.511,101.6],[2018.532,100.2],[2018.554,101.6],[2018.575,101.3],[2018.597,98.5],[2018.619,97.9],[2018.640,99.9],[2018.662,98.8],[2018.683,97.3],[2018.705,99.0],[2018.727,98.5],[2018.752,95.9],[2018.770,98.2],[2018.791,97.9],[2018.813,96.9],[2018.834,99.9],[2018.856,101.1],[2018.878,102.2],[2018.910,103.1],[2018.932,101.6],[2018.953,102.2],[2018.975,99.9],[2018.996,100.8],[2019.018,101.6],[2019.040,100.5],[2019.061,101.6],[2019.076,102.8],
[2019.098,101.6],[2019.120,102.5],[2019.141,100.8],[2019.163,102.2],[2019.184,101.1],[2019.206,101.9],[2019.223,102.6],[2019.238,101.1],[2019.260,100.5],[2019.282,99.9],[2019.303,99.0],[2019.325,98.8],[2019.346,98.2],[2019.368,97.0],[2019.389,97.9],[2019.411,99.0],[2019.433,97.3],[2019.454,98.5],[2019.476,99.9],[2019.497,98.8],[2019.519,100.2],[2019.541,100.8],[2019.562,98.8],[2019.584,96.5],[2019.605,95.9],[2019.627,95.0],[2019.649,94.7],[2019.670,95.3],[2019.692,94.2],[2019.713,93.3],[2019.735,93.6],[2019.756,94.2],[2019.778,93.9],[2019.800,95.3],[2019.821,95.0],[2019.843,94.7],[2019.864,95.3],[2019.886,95.9],[2019.908,97.3],[2019.929,97.6],[2019.951,98.5],[2019.972,99.0],[2019.987,99.9],[2020.005,99.0],[2020.026,98.5],[2020.048,98.2],[2020.070,96.8],[2020.091,95.9],[2020.113,95.3],[2020.134,94.4],[2020.156,93.9],[2020.178,92.5],[2020.188,89.6],[2020.203,84.7],[2020.221,90.0],[2020.242,87.3],[2020.264,90.2],[2020.281,90.7],[2020.296,88.7],[2020.318,90.4],[2020.339,89.6],[2020.361,89.0],[2020.383,91.3],[2020.393,92.5],[2020.411,97.0],[2020.426,97.6],[2020.447,95.9],[2020.469,96.5],[2020.491,95.6],[2020.512,97.6],[2020.534,98.2],
[2020.549,99.3],[2020.571,98.8],[2020.592,99.3],[2020.614,98.2],[2020.635,97.9],[2020.657,99.6],[2020.679,100.5],[2020.700,98.8],[2020.722,97.3],[2020.743,98.8],[2020.765,98.2],[2020.786,99.0],[2020.808,98.5],[2020.830,99.6],[2020.851,101.6],[2020.873,102.8],[2020.894,103.9],[2020.916,104.8],[2020.938,105.4],[2020.959,105.9],[2020.981,107.1],[2021.002,108.2],[2021.024,106.5],[2021.046,107.4],[2021.067,106.8],[2021.089,107.1],[2021.110,107.6],[2021.132,108.8],[2021.143,110.5],[2021.164,108.2],[2021.186,106.2],[2021.208,107.4],[2021.229,103.6],[2021.251,104.8],[2021.272,105.4],[2021.294,106.8],[2021.315,107.6],[2021.337,107.1],[2021.359,107.9],[2021.380,107.1],[2021.402,108.2],[2021.423,106.5],[2021.445,105.1],[2021.467,103.4],[2021.488,104.5],[2021.510,103.9],[2021.531,103.4],[2021.553,104.5],[2021.575,103.9],[2021.596,104.5],[2021.618,101.9],[2021.639,104.2],[2021.661,106.2],[2021.682,105.4],[2021.704,105.4],[2021.726,104.2],[2021.747,103.4],[2021.769,105.4],[2021.790,106.8],[2021.812,107.1],[2021.834,106.5],[2021.855,105.1],[2021.877,103.6],[2021.898,102.2],[2021.920,101.1],[2021.942,101.4],[2021.963,100.8],[2021.985,101.6],[2022.000,101.4],
[2022.021,102.0],[2022.042,100.5],[2022.064,97.6],[2022.075,98.8],[2022.096,99.3],[2022.118,99.6],[2022.139,100.8],[2022.161,101.9],[2022.183,100.8],[2022.204,103.1],[2022.226,103.6],[2022.247,103.1],[2022.269,101.6],[2022.290,100.2],[2022.312,98.2],[2022.323,94.7],[2022.344,93.6],[2022.366,95.9],[2022.388,97.3],[2022.409,97.0],[2022.431,94.2],[2022.452,94.4],[2022.474,93.3],[2022.496,92.2],[2022.517,91.3],[2022.539,92.5],[2022.560,93.3],[2022.582,94.2],[2022.603,95.9],[2022.625,92.7],[2022.647,92.5],[2022.668,91.3],[2022.690,91.0],[2022.711,89.6],[2022.722,85.0],[2022.744,83.9],[2022.755,85.6],[2022.765,83.3],[2022.787,85.0],[2022.809,86.7],[2022.830,87.3],[2022.852,91.0],[2022.863,91.3],[2022.884,93.0],[2022.906,95.3],[2022.927,95.0],[2022.949,95.9],[2022.971,93.0],[2022.992,94.4],[2023.014,93.0],[2023.035,95.3],[2023.057,96.5],[2023.079,95.3],[2023.100,94.2],[2023.122,93.6],[2023.143,92.5],[2023.165,92.7],[2023.186,91.0],[2023.208,92.7],[2023.230,93.6],[2023.251,92.7],[2023.273,93.0],[2023.294,91.3],[2023.316,92.5],[2023.348,94.4],[2023.370,92.5],[2023.392,90.2],[2023.413,90.0],[2023.435,91.9],[2023.450,92.5],
[2023.472,91.6],[2023.493,92.5],[2023.515,95.0],[2023.526,94.7],[2023.547,92.5],[2023.569,92.2],[2023.590,90.7],[2023.612,89.0],[2023.634,88.7],[2023.655,88.7],[2023.677,87.6],[2023.698,88.1],[2023.720,88.4],[2023.741,89.0],[2023.763,89.9],[2023.785,87.9],[2023.806,86.7],[2023.828,89.0],[2023.849,89.6],[2023.871,89.9],[2023.893,90.7],[2023.914,92.5],[2023.936,91.9],[2023.957,93.0],[2023.979,94.2],[2024.001,93.0],[2024.022,91.9],[2024.044,90.4],[2024.065,91.3],[2024.087,90.7],[2024.108,91.3],[2024.130,91.9],[2024.152,90.7],[2024.173,91.9],[2024.195,91.3],[2024.216,89.9],[2024.238,88.7],[2024.260,89.9],[2024.281,87.9],[2024.303,87.9],[2024.324,89.6],[2024.346,89.9],[2024.368,91.0],[2024.389,91.3],[2024.411,91.9],[2024.432,91.3],[2024.454,91.3],[2024.476,90.7],[2024.497,91.3],[2024.519,90.2],[2024.540,90.7],[2024.562,87.9],[2024.583,88.7],[2024.605,89.6],[2024.627,91.9],[2024.648,93.0],[2024.670,91.9],[2024.691,92.5],[2024.713,92.7],[2024.735,94.2],[2024.745,94.2],[2024.767,91.3],[2024.789,90.2],[2024.810,89.3],[2024.832,89.0],[2024.853,88.7],[2024.875,87.9],[2024.901,87.3],
[2024.923,87.6],[2024.944,83.9],[2024.966,83.9],[2024.987,83.6],[2025.009,83.0],[2025.031,84.7],[2025.052,83.9],[2025.074,85.0],[2025.095,84.1],[2025.117,85.3],[2025.138,85.0],[2025.160,83.6],[2025.182,86.1],[2025.203,86.4],[2025.225,85.0],[2025.246,83.9],[2025.257,82.4],[2025.272,87.3],[2025.290,89.0],[2025.311,89.3],[2025.333,88.1],[2025.354,87.3],[2025.376,88.4],[2025.398,89.0],[2025.419,89.6],[2025.441,90.2],[2025.462,89.3],[2025.484,90.4],[2025.506,89.9],[2025.527,88.4],[2025.549,89.6],[2025.570,88.1],[2025.592,88.7],[2025.613,88.1],[2025.635,87.3],[2025.657,87.6],[2025.678,87.9],[2025.700,89.0],[2025.721,86.7],[2025.743,87.0],[2025.765,85.9],[2025.786,85.3],[2025.808,85.9],[2025.829,85.3],[2025.851,83.9],[2025.873,84.1],[2025.883,83.3],[2025.905,85.6],[2025.927,85.9],[2025.948,86.4],[2025.970,86.7],[2025.991,86.1],[2026.013,85.9],[2026.035,85.6],[2026.045,86.7],[2026.067,90.2],[2026.088,89.9],[2026.110,89.6],[2026.132,89.9],[2026.153,89.0],[2026.175,88.4],[2026.196,87.3],[2026.207,86.1],[2026.218,87.3],[2026.235,86.7]];

const seriesData = [MXN, CAD, AUD, NZD];

function toDate(t) {
  const y = Math.floor(t);
  const a = Date.UTC(y, 0, 1), b = Date.UTC(y + 1, 0, 1);
  return new Date(a + (t - y) * (b - a));
}

const rows = [];
seriesNames.forEach((name, i) => seriesData[i].forEach(([t, v]) => rows.push({name, date: toDate(t), value: v})));
const lastRows = seriesNames.map((name, i) => {
  const d = seriesData[i][seriesData[i].length - 1];
  return {name, date: toDate(d[0]), value: d[1]};
});
const xTicks = xTickYears.map(y => new Date(Date.UTC(y, 0, 1)));
const font = "'DejaVu Sans Mono', monospace";

const chart = Plot.plot({
  width: 1920,
  height: 1440,
  marginTop: 123,
  marginBottom: 115,
  marginLeft: 115,
  marginRight: 101,
  style: {fontFamily: font, background: "#ffffff", color: "#000", overflow: "visible"},
  x: {type: "utc", domain: [toDate(2015.743), toDate(2026.784)]},
  y: {domain: [66.5, 114.03]},
  color: {domain: seriesNames, range: seriesColors},
  marks: [
    Plot.gridY(yTickValues, {stroke: "#f5f5f5", strokeOpacity: 1, strokeWidth: 3}),
    Plot.gridX(xTicks, {stroke: "#f5f5f5", strokeOpacity: 1, strokeWidth: 3}),
    Plot.line(rows, {x: "date", y: "value", z: "name", stroke: "name", strokeWidth: 3.5, strokeLinejoin: "round"}),
    Plot.text(lastRows, {x: "date", y: "value", text: "name", fill: "name", rotate: -30, textAnchor: "start", lineAnchor: "middle", dx: 84, dy: 12, fontSize: 35}),
    Plot.axisY(yTickValues, {tickSize: 8, tickFormat: () => "", strokeWidth: 2, label: null}),
    Plot.axisX(xTicks, {tickSize: 8, tickFormat: () => "", strokeWidth: 2, label: null}),
    Plot.text(yTickValues, {y: d => d, text: d => String(d), frameAnchor: "left", dx: -32, textAnchor: "end", lineAnchor: "middle", fontSize: 19.5, fill: "#000"}),
    Plot.text(xTicks, {x: d => d, text: d => String(d.getUTCFullYear()), frameAnchor: "bottom", dx: -10, dy: 25, rotate: -30, textAnchor: "end", lineAnchor: "middle", fontSize: 26.5, fill: "#000"}),
    Plot.frame({anchor: "left", stroke: "#000", strokeWidth: 3}),
    Plot.frame({anchor: "bottom", stroke: "#000", strokeWidth: 3}),
    Plot.text([chartTitle], {frameAnchor: "top", dx: -5, dy: -55, lineAnchor: "bottom", fontSize: 67, fill: "#000"}),
    Plot.text([watermark], {frameAnchor: "bottom-right", dx: -19, dy: -20, textAnchor: "end", lineAnchor: "bottom", fontSize: 33, fill: "#999999"})
  ]
});
document.getElementById("chart").appendChild(chart);
</script>
</body></html>
